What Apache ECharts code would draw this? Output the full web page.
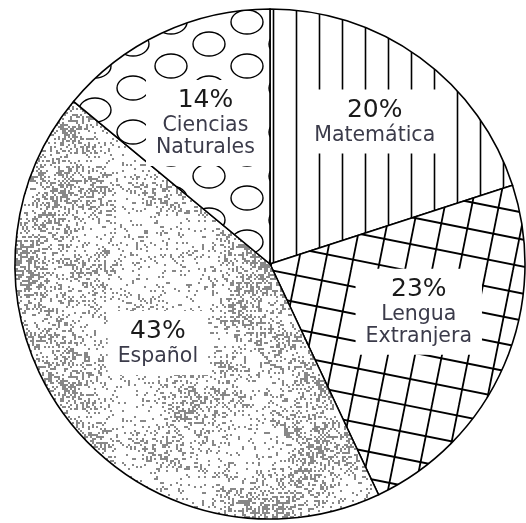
<!DOCTYPE html>
<html>
<head>
<meta charset="utf-8">
<script src="https://cdn.jsdelivr.net/npm/echarts@6/dist/echarts.min.js"></script>
<style>
  html, body { margin: 0; padding: 0; background: #fff; }
  #chart { width: 526px; height: 523px; }
</style>
</head>
<body>
<div id="chart"></div>
<script>
// Subjects and their share of the total (percent), clockwise from 12 o'clock
const categories = ['Matemática', 'Lengua Extranjera', 'Español', 'Ciencias Naturales'];
const shares = [20, 23, 43, 14];

// Label nudges from the default inside position, per slice
const labelNudge = [[28, -37], [29, -4], [-9, -1], [-9, -23]];

// ---------- fill textures ----------
function makeCanvas(w, h) {
  const c = document.createElement('canvas');
  c.width = w; c.height = h;
  return c;
}

// vertical hatching
function verticalLines() {
  const c = makeCanvas(23, 23);
  const g = c.getContext('2d');
  g.fillStyle = '#fff'; g.fillRect(0, 0, 23, 23);
  g.strokeStyle = '#000'; g.lineWidth = 1.6;
  g.beginPath(); g.moveTo(20.5, 0); g.lineTo(20.5, 23); g.stroke();
  return c;
}

// skewed cross hatching
function crossHatch() {
  const W = 270, H = 135, step = 27;
  const c = makeCanvas(W, H);
  const g = c.getContext('2d');
  g.fillStyle = '#fff'; g.fillRect(0, 0, W, H);
  g.strokeStyle = '#000'; g.lineWidth = 1.8;
  // near-horizontal lines sinking to the right
  for (let k = -14; k <= H / step + 2; k++) {
    const y0 = k * step;
    g.beginPath(); g.moveTo(0, y0); g.lineTo(W, y0 + 2 * step); g.stroke();
  }
  // near-vertical lines leaning right at the top
  for (let k = -3; k <= W / step + 3; k++) {
    const x0 = k * step;
    g.beginPath(); g.moveTo(x0, 0); g.lineTo(x0 - step, H); g.stroke();
  }
  return c;
}

// staggered open ellipses
function ellipses() {
  const W = 76, H = 44;
  const c = makeCanvas(W, H);
  const g = c.getContext('2d');
  g.fillStyle = '#fff'; g.fillRect(0, 0, W, H);
  g.strokeStyle = '#000'; g.lineWidth = 1.4;
  const centres = [[19, 22], [57, 0]];
  centres.forEach(([cx, cy]) => {
    for (let ox = -W; ox <= W; ox += W) {
      for (let oy = -H; oy <= H; oy += H) {
        g.beginPath();
        g.ellipse(cx + ox, cy + oy, 16, 12, 0, 0, Math.PI * 2);
        g.stroke();
      }
    }
  });
  return c;
}

// grey stipple with cloudy density, in 2px grains
function stipple() {
  const N = 128;
  const small = makeCanvas(N, N);
  const g = small.getContext('2d');
  const img = g.createImageData(N, N);
  function hash(x, y, s) {
    let h = (Math.imul(x, 374761393) + Math.imul(y, 668265263) + Math.imul(s, 144665)) | 0;
    h = Math.imul(h ^ (h >>> 13), 1274126177);
    h = h ^ (h >>> 16);
    return (h >>> 0) / 4294967296;
  }
  function smooth(t) { return t * t * (3 - 2 * t); }
  function vnoise(x, y, cell, seed) {
    const n = N / cell;
    const gx = x / cell, gy = y / cell;
    const ix = Math.floor(gx), iy = Math.floor(gy);
    const fx = smooth(gx - ix), fy = smooth(gy - iy);
    const a = hash(ix % n, iy % n, seed), b = hash((ix + 1) % n, iy % n, seed);
    const cc = hash(ix % n, (iy + 1) % n, seed), d = hash((ix + 1) % n, (iy + 1) % n, seed);
    return (a * (1 - fx) + b * fx) * (1 - fy) + (cc * (1 - fx) + d * fx) * fy;
  }
  for (let y = 0; y < N; y++) {
    for (let x = 0; x < N; x++) {
      const v = 0.65 * vnoise(x, y, 32, 7) + 0.35 * vnoise(x, y, 8, 11);
      const t = Math.max(0, v - 0.15) / 0.85;
      const dens = 0.07 + 0.72 * Math.pow(t, 1.6);
      const on = hash(x, y, 3) < dens;
      const i = (y * N + x) * 4;
      const col = on ? 136 : 255;
      img.data[i] = col; img.data[i + 1] = col; img.data[i + 2] = col; img.data[i + 3] = 255;
    }
  }
  g.putImageData(img, 0, 0);
  const c = makeCanvas(N * 2, N * 2);
  const g2 = c.getContext('2d');
  g2.imageSmoothingEnabled = false;
  g2.drawImage(small, 0, 0, N * 2, N * 2);
  return c;
}

const fills = [verticalLines(), crossHatch(), stipple(), ellipses()];

const chart = echarts.init(document.getElementById('chart'), null, { renderer: 'canvas' });

chart.setOption({
  animation: false,
  backgroundColor: '#fff',
  series: [{
    type: 'pie',
    center: [270, 264],
    radius: [0, 255],
    startAngle: 90,
    clockwise: true,
    avoidLabelOverlap: false,
    emphasis: { disabled: true },
    itemStyle: { borderColor: '#000', borderWidth: 1.6 },
    label: {
      show: true,
      position: 'inside',
      backgroundColor: '#fff',
      padding: [7, 10],
      formatter: p => '{p|' + p.value + '%}\n{n|' + p.name.replace(' ', '\n') + '}',
      rich: {
        p: { fontFamily: 'DejaVu Sans', fontSize: 25, color: '#1a1a1a', lineHeight: 28, align: 'center' },
        n: { fontFamily: 'DejaVu Sans', fontSize: 20.5, color: '#3b3b4a', lineHeight: 22, align: 'center' }
      }
    },
    labelLine: { show: false },
    labelLayout: params => ({ dx: labelNudge[params.dataIndex][0], dy: labelNudge[params.dataIndex][1] }),
    data: categories.map((name, i) => ({
      name: name,
      value: shares[i],
      itemStyle: { color: { image: fills[i], repeat: 'repeat' } }
    }))
  }]
});
</script>
</body>
</html>
